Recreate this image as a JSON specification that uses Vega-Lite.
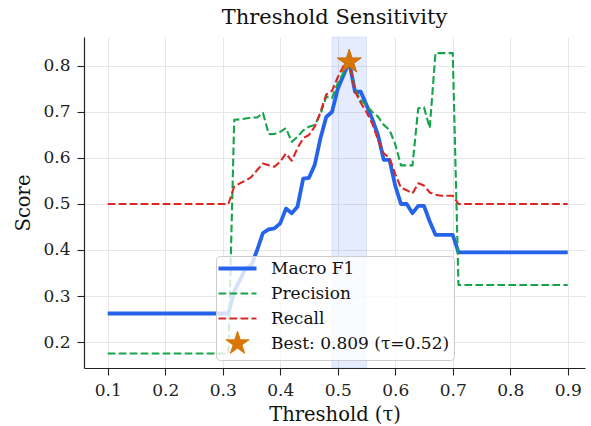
{
  "$schema": "https://vega.github.io/schema/vega-lite/v6.json",
  "width": 501,
  "height": 331,
  "autosize": {"type": "none"},
  "padding": {"left": 84, "top": 37, "right": 6, "bottom": 58},
  "title": {"text": "Threshold Sensitivity", "font": "DejaVu Serif", "fontSize": 21, "fontWeight": "normal", "color": "#111111", "anchor": "middle", "offset": 9},
  "data": {"values": [
    {"t": 0.10, "Macro F1": 0.262, "Precision": 0.175, "Recall": 0.50},
    {"t": 0.11, "Macro F1": 0.262, "Precision": 0.175, "Recall": 0.50},
    {"t": 0.12, "Macro F1": 0.262, "Precision": 0.175, "Recall": 0.50},
    {"t": 0.13, "Macro F1": 0.262, "Precision": 0.175, "Recall": 0.50},
    {"t": 0.14, "Macro F1": 0.262, "Precision": 0.175, "Recall": 0.50},
    {"t": 0.15, "Macro F1": 0.262, "Precision": 0.175, "Recall": 0.50},
    {"t": 0.16, "Macro F1": 0.262, "Precision": 0.175, "Recall": 0.50},
    {"t": 0.17, "Macro F1": 0.262, "Precision": 0.175, "Recall": 0.50},
    {"t": 0.18, "Macro F1": 0.262, "Precision": 0.175, "Recall": 0.50},
    {"t": 0.19, "Macro F1": 0.262, "Precision": 0.175, "Recall": 0.50},
    {"t": 0.20, "Macro F1": 0.262, "Precision": 0.175, "Recall": 0.50},
    {"t": 0.21, "Macro F1": 0.262, "Precision": 0.175, "Recall": 0.50},
    {"t": 0.22, "Macro F1": 0.262, "Precision": 0.175, "Recall": 0.50},
    {"t": 0.23, "Macro F1": 0.262, "Precision": 0.175, "Recall": 0.50},
    {"t": 0.24, "Macro F1": 0.262, "Precision": 0.175, "Recall": 0.50},
    {"t": 0.25, "Macro F1": 0.262, "Precision": 0.175, "Recall": 0.50},
    {"t": 0.26, "Macro F1": 0.262, "Precision": 0.175, "Recall": 0.50},
    {"t": 0.27, "Macro F1": 0.262, "Precision": 0.175, "Recall": 0.50},
    {"t": 0.28, "Macro F1": 0.262, "Precision": 0.175, "Recall": 0.50},
    {"t": 0.29, "Macro F1": 0.262, "Precision": 0.175, "Recall": 0.50},
    {"t": 0.30, "Macro F1": 0.262, "Precision": 0.175, "Recall": 0.50},
    {"t": 0.31, "Macro F1": 0.262, "Precision": 0.175, "Recall": 0.50},
    {"t": 0.32, "Macro F1": 0.31, "Precision": 0.683, "Recall": 0.538},
    {"t": 0.33, "Macro F1": 0.335, "Precision": 0.684, "Recall": 0.545},
    {"t": 0.34, "Macro F1": 0.36, "Precision": 0.686, "Recall": 0.551},
    {"t": 0.35, "Macro F1": 0.367, "Precision": 0.688, "Recall": 0.559},
    {"t": 0.36, "Macro F1": 0.40, "Precision": 0.688, "Recall": 0.574},
    {"t": 0.37, "Macro F1": 0.437, "Precision": 0.698, "Recall": 0.588},
    {"t": 0.38, "Macro F1": 0.445, "Precision": 0.652, "Recall": 0.584},
    {"t": 0.39, "Macro F1": 0.447, "Precision": 0.652, "Recall": 0.581},
    {"t": 0.40, "Macro F1": 0.458, "Precision": 0.657, "Recall": 0.592},
    {"t": 0.41, "Macro F1": 0.49, "Precision": 0.665, "Recall": 0.61},
    {"t": 0.42, "Macro F1": 0.48, "Precision": 0.635, "Recall": 0.594},
    {"t": 0.43, "Macro F1": 0.494, "Precision": 0.646, "Recall": 0.621},
    {"t": 0.44, "Macro F1": 0.555, "Precision": 0.66, "Recall": 0.643},
    {"t": 0.45, "Macro F1": 0.557, "Precision": 0.668, "Recall": 0.650},
    {"t": 0.46, "Macro F1": 0.585, "Precision": 0.672, "Recall": 0.668},
    {"t": 0.47, "Macro F1": 0.643, "Precision": 0.695, "Recall": 0.70},
    {"t": 0.48, "Macro F1": 0.689, "Precision": 0.733, "Recall": 0.738},
    {"t": 0.49, "Macro F1": 0.70, "Precision": 0.73, "Recall": 0.746},
    {"t": 0.50, "Macro F1": 0.75, "Precision": 0.762, "Recall": 0.775},
    {"t": 0.51, "Macro F1": 0.78, "Precision": 0.785, "Recall": 0.80},
    {"t": 0.52, "Macro F1": 0.809, "Precision": 0.805, "Recall": 0.809},
    {"t": 0.53, "Macro F1": 0.744, "Precision": 0.75, "Recall": 0.745},
    {"t": 0.54, "Macro F1": 0.744, "Precision": 0.725, "Recall": 0.72},
    {"t": 0.55, "Macro F1": 0.715, "Precision": 0.715, "Recall": 0.70},
    {"t": 0.56, "Macro F1": 0.685, "Precision": 0.70, "Recall": 0.675},
    {"t": 0.57, "Macro F1": 0.65, "Precision": 0.69, "Recall": 0.64},
    {"t": 0.58, "Macro F1": 0.596, "Precision": 0.672, "Recall": 0.61},
    {"t": 0.59, "Macro F1": 0.596, "Precision": 0.661, "Recall": 0.60},
    {"t": 0.60, "Macro F1": 0.54, "Precision": 0.63, "Recall": 0.565},
    {"t": 0.61, "Macro F1": 0.50, "Precision": 0.584, "Recall": 0.535},
    {"t": 0.62, "Macro F1": 0.50, "Precision": 0.584, "Recall": 0.53},
    {"t": 0.63, "Macro F1": 0.48, "Precision": 0.584, "Recall": 0.523},
    {"t": 0.64, "Macro F1": 0.496, "Precision": 0.708, "Recall": 0.545},
    {"t": 0.65, "Macro F1": 0.496, "Precision": 0.71, "Recall": 0.54},
    {"t": 0.66, "Macro F1": 0.462, "Precision": 0.665, "Recall": 0.525},
    {"t": 0.67, "Macro F1": 0.433, "Precision": 0.828, "Recall": 0.52},
    {"t": 0.68, "Macro F1": 0.433, "Precision": 0.828, "Recall": 0.518},
    {"t": 0.69, "Macro F1": 0.433, "Precision": 0.828, "Recall": 0.518},
    {"t": 0.70, "Macro F1": 0.433, "Precision": 0.828, "Recall": 0.518},
    {"t": 0.71, "Macro F1": 0.395, "Precision": 0.324, "Recall": 0.50},
    {"t": 0.72, "Macro F1": 0.395, "Precision": 0.324, "Recall": 0.50},
    {"t": 0.73, "Macro F1": 0.395, "Precision": 0.324, "Recall": 0.50},
    {"t": 0.74, "Macro F1": 0.395, "Precision": 0.324, "Recall": 0.50},
    {"t": 0.75, "Macro F1": 0.395, "Precision": 0.324, "Recall": 0.50},
    {"t": 0.76, "Macro F1": 0.395, "Precision": 0.324, "Recall": 0.50},
    {"t": 0.77, "Macro F1": 0.395, "Precision": 0.324, "Recall": 0.50},
    {"t": 0.78, "Macro F1": 0.395, "Precision": 0.324, "Recall": 0.50},
    {"t": 0.79, "Macro F1": 0.395, "Precision": 0.324, "Recall": 0.50},
    {"t": 0.80, "Macro F1": 0.395, "Precision": 0.324, "Recall": 0.50},
    {"t": 0.81, "Macro F1": 0.395, "Precision": 0.324, "Recall": 0.50},
    {"t": 0.82, "Macro F1": 0.395, "Precision": 0.324, "Recall": 0.50},
    {"t": 0.83, "Macro F1": 0.395, "Precision": 0.324, "Recall": 0.50},
    {"t": 0.84, "Macro F1": 0.395, "Precision": 0.324, "Recall": 0.50},
    {"t": 0.85, "Macro F1": 0.395, "Precision": 0.324, "Recall": 0.50},
    {"t": 0.86, "Macro F1": 0.395, "Precision": 0.324, "Recall": 0.50},
    {"t": 0.87, "Macro F1": 0.395, "Precision": 0.324, "Recall": 0.50},
    {"t": 0.88, "Macro F1": 0.395, "Precision": 0.324, "Recall": 0.50},
    {"t": 0.89, "Macro F1": 0.395, "Precision": 0.324, "Recall": 0.50},
    {"t": 0.90, "Macro F1": 0.395, "Precision": 0.324, "Recall": 0.50}
  ]},
  "layer": [
    {
      "data": {"values": [{"lo": 0.49, "hi": 0.55}]},
      "mark": {"type": "rect", "fill": "#2563eb", "fillOpacity": 0.12, "stroke": "#2563eb", "strokeOpacity": 0.12, "strokeWidth": 1},
      "encoding": {
        "x": {"field": "lo", "type": "quantitative", "scale": {"domain": [0.0588, 0.93], "nice": false, "zero": false}, "title": "Threshold (τ)", "axis": {"values": [0.1, 0.2, 0.3, 0.4, 0.5, 0.6, 0.7, 0.8, 0.9], "format": ".1f"}},
        "x2": {"field": "hi"}
      }
    },
    {
      "transform": [
        {"fold": ["Macro F1", "Precision", "Recall"], "as": ["series", "score"]},
        {"filter": "datum.series === 'Macro F1'"}
      ],
      "mark": {"type": "line", "color": "#2563eb", "strokeWidth": 3.8, "strokeJoin": "round", "strokeCap": "butt"},
      "encoding": {
        "x": {"field": "t", "type": "quantitative", "scale": {"domain": [0.0588, 0.93], "nice": false, "zero": false}, "title": "Threshold (τ)", "axis": {"values": [0.1, 0.2, 0.3, 0.4, 0.5, 0.6, 0.7, 0.8, 0.9], "format": ".1f"}},
        "y": {"field": "score", "type": "quantitative", "scale": {"domain": [0.1435, 0.863], "nice": false, "zero": false}, "title": "Score", "axis": {"values": [0.2, 0.3, 0.4, 0.5, 0.6, 0.7, 0.8], "format": ".1f"}}
      }
    },
    {
      "transform": [
        {"fold": ["Macro F1", "Precision", "Recall"], "as": ["series", "score"]},
        {"filter": "datum.series !== 'Macro F1'"}
      ],
      "mark": {"type": "line", "strokeWidth": 2.1, "strokeDash": [7.7, 3.3], "strokeJoin": "round"},
      "encoding": {
        "x": {"field": "t", "type": "quantitative", "scale": {"domain": [0.0588, 0.93], "nice": false, "zero": false}, "title": "Threshold (τ)", "axis": {"values": [0.1, 0.2, 0.3, 0.4, 0.5, 0.6, 0.7, 0.8, 0.9], "format": ".1f"}},
        "y": {"field": "score", "type": "quantitative", "scale": {"domain": [0.1435, 0.863], "nice": false, "zero": false}, "title": "Score", "axis": {"values": [0.2, 0.3, 0.4, 0.5, 0.6, 0.7, 0.8], "format": ".1f"}},
        "color": {
          "field": "series", "type": "nominal",
          "scale": {"domain": ["Macro F1", "Precision", "Recall", "Best: 0.809 (τ=0.52)"], "range": ["#2563eb", "#16a34a", "#dc2626", "#d97706"]},
          "legend": {
            "title": null,
            "orient": "none",
            "legendX": 132,
            "legendY": 219,
            "padding": 4,
            "rowPadding": -2,
            "gridAlign": "all",
            "symbolSize": 484,
            "symbolOffset": 9,
            "labelOffset": 25,
            "labelLimit": 400,
            "labelFont": "DejaVu Serif",
            "labelFontSize": 17,
            "labelColor": "#111111",
            "fillColor": "rgba(255,255,255,0.8)",
            "strokeColor": "#cccccc",
            "cornerRadius": 4,
            "encode": {
              "symbols": {"update": {
                "shape": {"signal": "datum.value === 'Best: 0.809 (τ=0.52)' ? 'M0,-1L0.2245,-0.309L0.951,-0.309L0.363,0.118L0.588,0.809L0,0.382L-0.588,0.809L-0.363,0.118L-0.951,-0.309L-0.2245,-0.309Z' : 'stroke'"},
                "size": {"signal": "datum.value === 'Best: 0.809 (τ=0.52)' ? 600 : 1444"},
                "strokeWidth": {"signal": "datum.value === 'Macro F1' ? 3.8 : datum.value === 'Best: 0.809 (τ=0.52)' ? 1 : 2.1"},
                "strokeDash": {"signal": "datum.value === 'Precision' || datum.value === 'Recall' ? [7.7, 3.3] : [1, 0]"},
                "fill": {"signal": "datum.value === 'Best: 0.809 (τ=0.52)' ? '#d97706' : 'transparent'"},
                "stroke": {"signal": "datum.value === 'Macro F1' ? '#2563eb' : datum.value === 'Precision' ? '#16a34a' : datum.value === 'Recall' ? '#dc2626' : '#c46a05'"},
                "opacity": {"value": 1}
              }}
            }
          }
        }
      }
    },
    {
      "data": {"values": [{"t": 0.52, "score": 0.809, "series": "Best: 0.809 (τ=0.52)"}]},
      "mark": {"type": "point", "shape": "M0,-1L0.2245,-0.309L0.951,-0.309L0.363,0.118L0.588,0.809L0,0.382L-0.588,0.809L-0.363,0.118L-0.951,-0.309L-0.2245,-0.309Z", "filled": true, "size": 640, "fill": "#d97706", "stroke": "#c46a05", "strokeWidth": 1, "opacity": 1},
      "encoding": {
        "x": {"field": "t", "type": "quantitative", "scale": {"domain": [0.0588, 0.93], "nice": false, "zero": false}, "title": "Threshold (τ)", "axis": {"values": [0.1, 0.2, 0.3, 0.4, 0.5, 0.6, 0.7, 0.8, 0.9], "format": ".1f"}},
        "y": {"field": "score", "type": "quantitative", "scale": {"domain": [0.1435, 0.863], "nice": false, "zero": false}, "title": "Score", "axis": {"values": [0.2, 0.3, 0.4, 0.5, 0.6, 0.7, 0.8], "format": ".1f"}}
      }
    }
  ],
  "config": {
    "view": {"stroke": null},
    "axis": {
      "labelFont": "DejaVu Serif", "titleFont": "DejaVu Serif",
      "labelFontSize": 17, "titleFontSize": 19.5, "titleFontWeight": "normal",
      "labelColor": "#222222", "titleColor": "#111111",
      "domainColor": "#222222", "domainWidth": 1.2,
      "tickColor": "#222222", "tickSize": 7, "tickWidth": 1.1,
      "labelPadding": 7, "labelFlush": false,
      "grid": true, "gridColor": "#e6e6e6", "gridWidth": 1
    },
    "axisX": {"titlePadding": 7},
    "axisY": {"titlePadding": 9}
  }
}
